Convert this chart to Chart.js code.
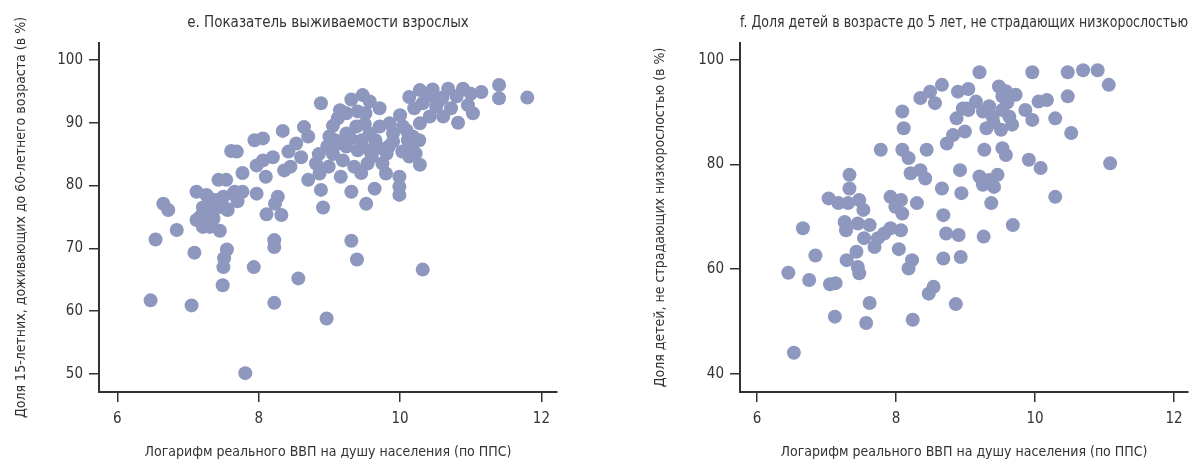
<!DOCTYPE html>
<html><head><meta charset="utf-8">
<script src="https://cdn.jsdelivr.net/npm/chart.js@4"></script>
<style>
html,body{margin:0;padding:0;background:#fff;}
#wrap{position:relative;width:1195px;height:461px;overflow:hidden;}
#c1{position:absolute;left:0;top:0;}
#c2{position:absolute;left:597px;top:0;}
</style></head><body>
<div id="wrap"><canvas id="c1" width="597" height="461"></canvas><canvas id="c2" width="598" height="461"></canvas></div>
<script>
// ---- Panel e: adult survival ----
const leftTitle = "e. Показатель выживаемости взрослых";
const leftYTitle = "Доля 15-летних, доживающих до 60-летнего возраста (в %)";
const xTitle = "Логарифм реального ВВП на душу населения (по ППС)";
const leftX = [6.54,6.47,7.05,7.09,6.84,6.65,6.72,7.49,7.50,7.51,7.55,7.81,7.93,8.22,8.22,8.22,8.56,8.96,9.31,9.39,
  10.32,8.91,8.11,8.32,8.23,8.27,7.97,7.77,7.61,7.69,7.94,8.06,8.34,8.88,8.36,8.06,8.10,8.42,8.53,8.64,
  8.70,8.70,8.81,8.86,8.88,8.99,9.16,9.19,9.31,9.52,9.64,9.80,9.99,9.99,9.99,10.28,10.00,7.12,7.34,7.17,
  7.25,7.31,7.36,7.43,7.54,7.50,7.64,7.56,7.77,7.39,7.12,7.28,9.31,9.47,9.57,9.71,9.12,9.24,9.38,9.08,
  9.24,9.46,9.57,9.54,9.60,9.40,9.24,9.13,9.57,9.65,9.71,9.51,8.97,9.84,9.90,9.85,9.81,10.03,10.11,10.13,
  10.22,10.27,10.28,10.04,10.18,10.13,10.28,10.46,10.68,10.89,11.15,11.40,11.40,11.80,10.32,10.51,10.72,10.96,11.03,10.82,
  10.42,10.61,10.20,10.09,10.40,10.60,10.80,11.00,10.55,9.00,8.85,9.05,9.35,9.45,9.30,9.50,9.70,9.75,8.60,8.45,
  7.97,8.20,7.21,7.45,7.70,9.05,9.15,9.90,10.15,9.40,7.21,7.33,7.26,7.38,7.54,7.40,7.66,7.26];
const leftY = [71.4,61.7,60.9,69.3,72.9,77.1,76.1,64.1,67.0,68.4,69.8,50.1,67.0,61.3,71.3,70.2,65.2,58.8,71.2,68.2,
  66.6,76.5,75.4,75.3,77.1,78.2,78.7,82.0,85.5,85.4,87.2,87.5,88.7,93.1,82.4,84.0,81.4,85.4,86.7,89.3,
  87.8,80.9,83.5,81.9,79.3,83.0,81.4,84.0,79.0,77.1,79.5,81.9,81.4,79.8,78.5,83.3,91.2,79.0,77.7,75.0,
  73.9,73.4,74.7,80.9,80.9,78.2,78.7,76.1,79.0,76.3,74.5,78.2,93.7,94.4,93.4,92.3,90.7,91.5,89.4,87.2,
  88.3,87.2,85.6,83.5,84.6,85.6,86.2,86.7,88.3,87.2,89.4,91.5,86.2,86.2,88.3,89.9,85.1,85.4,87.2,84.6,
  85.1,87.2,89.9,89.4,87.8,94.1,95.2,95.3,95.4,95.4,94.9,96.0,93.9,94.0,93.1,92.6,92.3,92.8,91.5,90.0,
  91.0,91.0,92.3,88.8,94.3,94.0,94.2,94.6,93.5,87.8,85.0,89.5,83.0,82.0,87.5,89.8,86.0,83.5,84.5,83.0,
  83.2,84.5,76.5,72.8,77.5,85.0,92.0,87.0,86.0,91.8,73.4,74.2,75.8,76.6,76.3,77.7,79.0,78.5];
const leftYTicks = [50,60,70,80,90,100];

// ---- Panel f: children under 5 not stunted ----
const rightTitle = "f. Доля детей в возрасте до 5 лет, не страдающих низкорослостью";
const rightYTitle = "Доля детей, не страдающих низкорослостью (в %)";
const rightX = [6.53,6.45,6.75,6.66,6.84,7.05,7.13,7.12,7.03,7.17,7.31,7.47,7.53,7.26,7.28,7.45,7.62,7.54,7.69,7.74,
  7.83,7.92,8.07,7.92,7.99,8.09,8.07,8.30,8.04,8.23,8.18,7.33,7.33,7.29,7.43,7.45,7.47,7.62,7.57,8.24,
  8.47,8.54,8.86,7.78,8.09,8.18,8.21,8.35,8.42,8.44,8.09,8.11,8.35,8.49,8.56,8.66,8.73,8.82,8.99,8.87,
  8.89,9.04,8.96,9.04,8.66,8.68,8.72,8.90,8.68,8.93,8.94,8.92,9.20,9.15,9.25,9.39,9.34,9.48,9.58,9.72,
  9.53,9.53,9.63,9.30,9.51,9.67,9.01,9.27,9.53,9.58,9.20,9.34,9.46,9.25,9.41,9.37,9.26,9.68,9.91,10.08,
  9.96,9.86,9.96,10.05,10.17,10.29,10.29,10.47,10.47,10.52,10.69,10.90,11.06,11.08,9.40,9.60];
const rightY = [44.0,59.3,57.9,67.8,62.6,57.1,57.3,50.9,73.5,72.6,72.6,73.2,71.3,69.0,67.4,68.7,68.4,65.9,64.2,65.9,
  66.8,67.8,67.4,73.8,71.9,70.6,73.2,72.6,63.8,61.7,60.1,78.0,75.4,61.7,63.3,60.4,59.2,53.5,49.7,50.3,
  55.3,56.6,53.3,82.8,82.8,81.2,78.3,78.9,77.3,82.8,90.1,86.9,92.7,93.9,91.7,95.2,84.0,85.6,86.3,88.8,
  93.9,94.4,90.7,90.4,75.4,70.3,66.8,66.5,62.0,62.3,74.5,78.9,97.6,92.0,90.1,89.1,91.1,94.9,94.0,93.3,
  93.0,90.4,89.1,86.9,86.6,87.6,90.7,82.8,83.1,81.8,77.7,77.0,78.0,76.1,75.7,72.6,66.2,68.4,80.9,79.3,
  97.6,90.4,88.5,92.0,92.3,88.8,73.8,97.6,93.0,86.0,98.0,98.0,95.2,80.2,88.0,91.8];
const rightYTicks = [40,60,80,100];

const xTicks = [6,8,10,12];

const FONT = "'DejaVu Sans Condensed','Liberation Sans',sans-serif";
const TXT = '#333333';
const DOT = 'rgb(142,151,190)';

function makeChart(id, xs, ys, cfg) {
  const pts = xs.map((x, i) => ({x: x, y: ys[i]}));
  return new Chart(document.getElementById(id), {
    type: 'scatter',
    data: {datasets: [{data: pts, xAxisID: 'x', yAxisID: 'y', backgroundColor: DOT, borderWidth: 0, pointRadius: 7, pointHoverRadius: 7}]},
    options: {
      responsive: false, animation: false,
      layout: {padding: {left: 0, right: cfg.padRight, top: 0, bottom: 0}},
      plugins: {legend: {display: false}, tooltip: {enabled: false}, title: {display: false}},
      scales: {
        x: {
          type: 'linear', position: 'bottom', min: cfg.xmin, max: cfg.xmax,
          afterBuildTicks: s => { s.ticks = xTicks.map(v => ({value: v})); },
          grid: {display: true, drawOnChartArea: false, drawTicks: true, tickLength: 10, color: '#333', lineWidth: 1.5},
          border: {display: true, color: '#333', width: 2},
          ticks: {color: TXT, font: {family: FONT, size: 15}, padding: 8, maxRotation: 0},
          title: {display: true, text: xTitle, color: TXT, font: {family: FONT, size: 14}, padding: {top: 0, bottom: 0}},
          afterFit: s => { s.height = 69; }
        },
        y: {
          type: 'linear', position: 'left', min: cfg.ymin, max: cfg.ymax,
          afterBuildTicks: s => { s.ticks = cfg.yTicks.map(v => ({value: v})); },
          grid: {display: true, drawOnChartArea: false, drawTicks: true, tickLength: 10, color: '#333', lineWidth: 1.5},
          border: {display: true, color: '#333', width: 2},
          ticks: {color: TXT, font: {family: FONT, size: 15}, padding: 6},
          title: {display: true, text: cfg.yTitle, color: TXT, font: {family: FONT, size: 14}, padding: {top: cfg.yTitlePad, bottom: 0}},
          afterFit: s => { s.width = cfg.yWidth; }
        },
        top: {
          type: 'linear', position: 'top', display: true,
          grid: {display: false, drawTicks: false}, border: {display: false},
          ticks: {display: false},
          title: {display: true, text: cfg.title, color: TXT, font: {family: FONT, size: 15}, padding: {top: 14, bottom: 0}},
          afterFit: s => { s.height = 43; }
        }
      }
    }
  });
}

makeChart('c1', leftX, leftY, {title: leftTitle, yTitle: leftYTitle, yTicks: leftYTicks,
  xmin: 5.74, xmax: 12.22, ymin: 47.1, ymax: 102.7, yWidth: 99, padRight: 40, yTitlePad: 12.6});
makeChart('c2', rightX, rightY, {title: rightTitle, yTitle: rightYTitle, yTicks: rightYTicks,
  xmin: 5.755, xmax: 12.2, ymin: 36.5, ymax: 103.2, yWidth: 143, padRight: 0, yTitlePad: 54.6});
</script>
</body></html>
